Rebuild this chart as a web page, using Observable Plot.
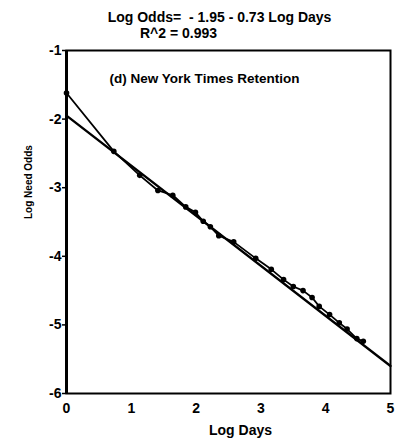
<!DOCTYPE html>
<html>
<head>
<meta charset="utf-8">
<script src="https://cdn.jsdelivr.net/npm/d3@7"></script>
<script src="https://cdn.jsdelivr.net/npm/@observablehq/plot@0.6"></script>
<style>
  body { margin: 0; background: #fff; }
  #chart svg { font-family: "Liberation Sans", Arial, Helvetica, sans-serif; font-weight: bold; }
</style>
</head>
<body>
<div id="chart"></div>
<script>
// Observed retention: log days vs. log need odds
const logDays = [0, 0.73, 1.13, 1.41, 1.64, 1.84, 1.99, 2.11, 2.22, 2.35, 2.58, 2.92,
                 3.16, 3.35, 3.50, 3.65, 3.79, 3.90, 4.06, 4.21, 4.33, 4.48, 4.58];
const logNeedOdds = [-1.62, -2.47, -2.82, -3.04, -3.11, -3.28, -3.36, -3.49, -3.57, -3.70, -3.79, -4.03,
                     -4.19, -4.34, -4.44, -4.50, -4.60, -4.73, -4.85, -4.97, -5.06, -5.20, -5.24];

// Linear fit parameters
const fitIntercept = -1.95;
const fitSlope = -0.73;
const rSquared = 0.993;
const fitRange = [0, 5];

const xTicks = [0, 1, 2, 3, 4, 5];
const yTicks = [-1, -2, -3, -4, -5, -6];

const titleText = `Log Odds=  - ${Math.abs(fitIntercept).toFixed(2)} - ${Math.abs(fitSlope).toFixed(2)} Log Days`;
const r2Text = `R^2 = ${rSquared.toFixed(3)}`;
const panelLabel = "(d) New York Times Retention";
const xLabel = "Log Days";
const yLabel = "Log Need Odds";

const observed = logDays.map((x, i) => ({x, y: logNeedOdds[i]}));
const fitted = fitRange.map(x => ({x, y: fitIntercept + fitSlope * x}));

const chart = Plot.plot({
  width: 395,
  height: 442,
  marginLeft: 66,
  marginRight: 5,
  marginTop: 50,
  marginBottom: 49,
  style: {fontFamily: "'Liberation Sans', Arial, sans-serif", fontWeight: "bold", background: "#fff"},
  x: {domain: [0, 5]},
  y: {domain: [-6, -1]},
  marks: [
    Plot.frame({stroke: "#000", strokeWidth: 2}),
    Plot.ruleX([0], {stroke: "#000", strokeWidth: 3}),
    Plot.axisX({ticks: xTicks, tickSize: 0, tickPadding: 10, fontSize: 14, tickFormat: d => d, label: null}),
    Plot.axisY({ticks: yTicks, tickSize: 4, tickPadding: 1, fontSize: 14, tickFormat: d => d, label: null, strokeWidth: 1.5}),
    Plot.line(fitted, {x: "x", y: "y", stroke: "#000", strokeWidth: 2.4}),
    Plot.line(observed, {x: "x", y: "y", stroke: "#000", strokeWidth: 1.8}),
    Plot.dot(observed, {x: "x", y: "y", r: 2.8, fill: "#000"}),
    Plot.text([titleText], {frameAnchor: "top", dx: -9, dy: -38, fontSize: 14, fontWeight: "bold", fill: "#000"}),
    Plot.text([r2Text], {frameAnchor: "top", dx: -50, dy: -22, fontSize: 14, fontWeight: "bold", fill: "#000"}),
    Plot.text([panelLabel], {frameAnchor: "top", dx: -24, dy: 23, fontSize: 13.5, fontWeight: "bold", fill: "#000"}),
    Plot.text([xLabel], {frameAnchor: "bottom", dx: 12, dy: 41, fontSize: 14, fontWeight: "bold", fill: "#000"}),
    Plot.text([yLabel], {frameAnchor: "left", dx: -38, dy: -3, rotate: -90, fontSize: 10, fontWeight: "bold", fill: "#000"})
  ]
});
document.getElementById("chart").append(chart);
</script>
</body>
</html>
